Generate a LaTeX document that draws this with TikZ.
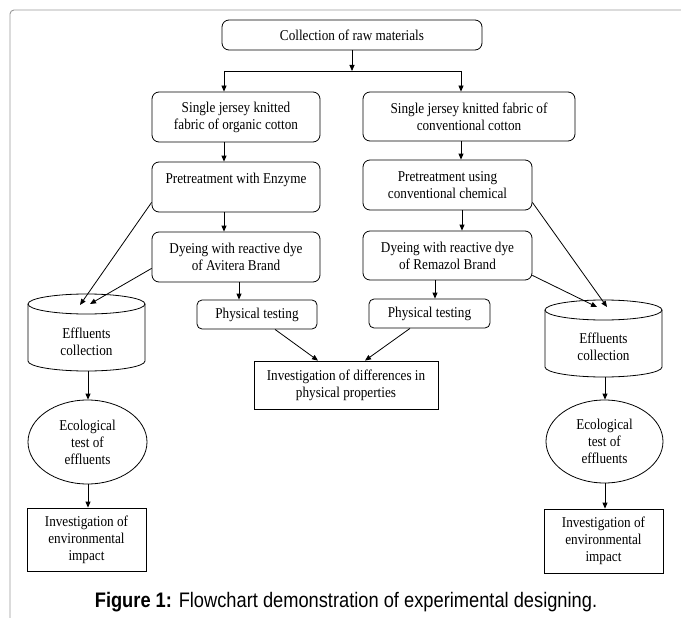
\documentclass[tikz,border=0pt]{standalone}
\usepackage{fontspec}
\setmainfont{Liberation Serif}[FakeStretch=0.88]
\newfontfamily\capfont{Liberation Sans}[FakeStretch=0.87]
\usetikzlibrary{arrows.meta,shapes.geometric,calc}
\begin{document}
\begin{tikzpicture}[x=1pt,y=-1pt,
  every node/.style={font=\fontsize{15}{17}\selectfont, align=center, inner sep=0pt},
  rbox/.style={draw, line width=0.8pt, rounded corners=7pt},
  sbox/.style={draw, line width=0.8pt},
  oval/.style={draw, ellipse, line width=0.8pt},
  arr/.style={line width=0.8pt, -{Triangle[length=6pt,width=5pt]}},
  ln/.style={line width=0.8pt}]
\useasboundingbox (0,0) rectangle (681,618);
% frame
\draw[gray!80, line width=0.9pt, rounded corners=4pt] (10,618) -- (10,10) -- (681,10);

% boxes
\node[rbox, minimum width=260pt, minimum height=30pt] (top) at (352,35) {Collection of raw materials};
\node[rbox, minimum width=168pt, minimum height=50pt] (s1l) at (236,117) {Single jersey knitted\\fabric of organic cotton};
\node[rbox, minimum width=212pt, minimum height=49pt] (s1r) at (469,116.5) {Single jersey knitted fabric of\\conventional cotton};
\node[rbox, minimum width=168pt, minimum height=50pt] (p2l) at (236,187) {Pretreatment with Enzyme\\\mbox{}};
\node[rbox, minimum width=169pt, minimum height=50pt] (p2r) at (447.5,185) {Pretreatment using\\conventional chemical};
\node[rbox, minimum width=168pt, minimum height=50pt] (d3l) at (236,257) {Dyeing with reactive dye\\of Avitera Brand};
\node[rbox, minimum width=169pt, minimum height=49pt] (d3r) at (447.5,255.5) {Dyeing with reactive dye\\of Remazol Brand};
\node[rbox, rounded corners=5pt, minimum width=120pt, minimum height=29pt] (ptl) at (257,314.5) {Physical testing};
\node[rbox, rounded corners=5pt, minimum width=121pt, minimum height=29pt] (ptr) at (429.5,313.5) {Physical testing};
\node[sbox, minimum width=184pt, minimum height=48pt] (inv) at (346,385) {Investigation of differences in\\physical properties};

% cylinders
\draw[ln] (86.5,304) ellipse [x radius=58.5pt, y radius=10pt];
\draw[ln] (28,304) -- (28,361) arc[start angle=180, end angle=360, x radius=58.5pt, y radius=10pt] -- (145,304);
\node (cyl) at (86.5,342) {Effluents\\collection};
\coordinate (cylTop) at (86.5,304);
\coordinate (cylBot) at (88,371);
\draw[ln] (603.5,310) ellipse [x radius=58.5pt, y radius=10pt];
\draw[ln] (545,310) -- (545,367) arc[start angle=180, end angle=360, x radius=58.5pt, y radius=10pt] -- (662,310);
\node (cyr) at (603.5,347) {Effluents\\collection};
\coordinate (cyrTop) at (603.5,310);
\coordinate (cyrBot) at (605,377);

% ellipses
\node[oval, minimum width=119pt, minimum height=84pt] (ell) at (87.5,442) {Ecological\\test of\\effluents};
\node[oval, minimum width=117pt, minimum height=83pt] (elr) at (604.5,441.5) {Ecological\\test of\\effluents};

% bottom boxes
\node[sbox, minimum width=119pt, minimum height=63pt] (ivl) at (86.5,539.5) {Investigation of\\environmental\\impact};
\node[sbox, minimum width=119pt, minimum height=64pt] (ivr) at (603.5,541) {Investigation of\\environmental\\impact};

% caption
\node[font=\capfont\fontsize{21}{24}\selectfont, anchor=base] (cap) at (346,607) {\textbf{Figure 1:} Flowchart demonstration of experimental designing.};

% connectors top
\coordinate (split) at (352,71);
\coordinate (bl) at (224,71);
\coordinate (br) at (461,71);
\draw[arr] (top.south) -- (split);
\draw[ln] (bl) -- (br);
\draw[arr] (bl) -- (bl |- s1l.north);
\draw[arr] (br) -- (br |- s1r.north);

% left column
\draw[arr] ([xshift=-12pt]s1l.south) -- ([xshift=-12pt]s1l.south |- p2l.north);
\draw[arr] ([xshift=-12pt]p2l.south) -- ([xshift=-12pt]p2l.south |- d3l.north);
\draw[arr] ([xshift=3pt]d3l.south) -- ([xshift=3pt]d3l.south |- ptl.north);
% right column
\draw[arr] ([xshift=-8pt]s1r.south) -- ([xshift=-8pt]s1r.south |- p2r.north);
\draw[arr] ([xshift=14.5pt]p2r.south) -- ([xshift=14.5pt]p2r.south |- d3r.north);
\draw[arr] ([xshift=-12.5pt]d3r.south) -- ([xshift=-12.5pt]d3r.south |- ptr.north);

% diagonals to cylinders
\draw[arr] ([yshift=10pt]p2l.south west) -- ([xshift=-6.5pt,yshift=-1pt]cylTop);
\draw[arr] ([yshift=14pt]d3l.south west) -- ([xshift=3.5pt]cylTop);
\draw[arr] ([yshift=8pt]p2r.south east) -- ([xshift=3.5pt,yshift=3pt]cyrTop);
\draw[arr] ([yshift=5pt]d3r.south east) -- ([xshift=-6.5pt,yshift=3pt]cyrTop);

% to investigation
\draw[arr] ([xshift=18pt]ptl.south) -- ([xshift=-28pt]inv.north);
\draw[arr] ([xshift=-19.5pt]ptr.south) -- ([xshift=19pt]inv.north);

% effluent chains
\draw[arr] (cylBot) -- (cylBot |- ell.north);
\draw[arr] (ell.south -| cylBot) -- (cylBot |- ivl.north);
\draw[arr] (cyrBot) -- (cyrBot |- elr.north);
\draw[arr] (elr.south -| cyrBot) -- (cyrBot |- ivr.north);
\end{tikzpicture}
\end{document}
